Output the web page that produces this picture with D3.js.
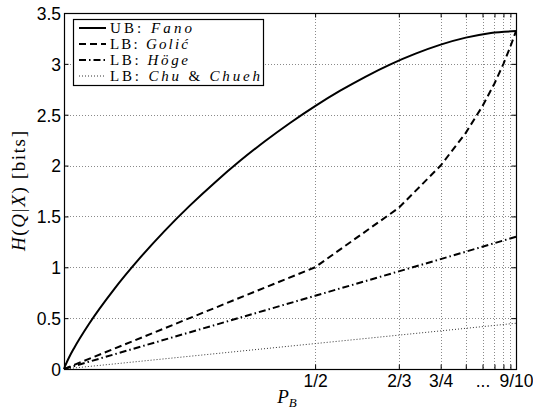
<!DOCTYPE html>
<html><head><meta charset="utf-8">
<script src="https://cdn.jsdelivr.net/npm/d3@7"></script>
<style>body{margin:0;background:#fff}svg{display:block}</style>
</head><body><svg id="c" width="533" height="416"></svg>
<script>
// ---- data ----
const fanoP = [0, 0.002, 0.005, 0.01, 0.02, 0.05, 0.1, 0.15, 0.2, 0.25, 0.3, 0.35, 0.4, 0.45, 0.5, 0.55, 0.6, 0.65, 0.7, 0.75, 0.8, 0.85, 0.9];
const fanoH = [0, 0.027, 0.061, 0.113, 0.205, 0.445, 0.786, 1.085, 1.356, 1.604, 1.832, 2.044, 2.239, 2.419, 2.585, 2.736, 2.873, 2.995, 3.100, 3.189, 3.258, 3.304, 3.322];
const golicP = [0, 1/2, 2/3, 3/4, 4/5, 5/6, 6/7, 7/8, 8/9, 9/10];
const golicH = [0, 1.0, 1.585, 2.0, 2.322, 2.585, 2.807, 3.0, 3.170, 3.322];
const hogeP = [0, 0.5, 2/3, 0.75, 0.9];
const hogeH = [0, 0.72, 0.96, 1.08, 1.30];
const chuP = [0, 0.5, 2/3, 0.9];
const chuH = [0, 0.25, 0.333, 0.45];
const xTicks = [0, 1/2, 2/3, 3/4, 4/5, 5/6, 6/7, 7/8, 8/9, 9/10];
const xTickLabels = ['', '1/2', '2/3', '3/4', '', '...', '', '', '', '9/10'];
const yTicks = [0, 0.5, 1, 1.5, 2, 2.5, 3, 3.5];
const yTickLabels = ['0', '0.5', '1', '1.5', '2', '2.5', '3', '3.5'];
const legendPrefix = ['UB: ', 'LB: ', 'LB: ', 'LB: '];
const legendNames = ['Fano', 'Golić', 'Höge', 'Chu & Chueh'];

// ---- layout ----
const L = 64, R = 516, T = 13, B = 369;
const svg = d3.select('#c');
const x = d3.scaleLinear().domain([0, 0.9]).range([L, R]);
const y = d3.scaleLinear().domain([0, 3.5]).range([B, T]);
const sans = '"Liberation Sans", Arial, sans-serif';
const serif = '"Liberation Serif", "Times New Roman", serif';

// grid
const grid = svg.append('g').attr('stroke', '#8a8a8a').attr('stroke-width', 1).attr('stroke-dasharray', '1,2').attr('fill', 'none');
xTicks.filter(v => v > 0 && v < 0.9).forEach(v => {
  grid.append('line').attr('x1', Math.round(x(v)) + 0.5).attr('x2', Math.round(x(v)) + 0.5).attr('y1', T).attr('y2', B);
});
yTicks.filter(v => v > 0 && v < 3.5).forEach(v => {
  grid.append('line').attr('y1', Math.round(y(v)) + 0.5).attr('y2', Math.round(y(v)) + 0.5).attr('x1', L).attr('x2', R);
});

// axes
const tl = 4.5;
const xAxB = d3.axisBottom(x).tickValues(xTicks).tickSizeInner(-tl).tickSizeOuter(0).tickPadding(6).tickFormat((d, i) => xTickLabels[i]);
const gx = svg.append('g').attr('transform', `translate(0,${B})`).call(xAxB);
const xAxT = d3.axisTop(x).tickValues(xTicks).tickSizeInner(-tl).tickSizeOuter(0).tickFormat('');
const gxt = svg.append('g').attr('transform', `translate(0,${T})`).call(xAxT);
const yAxL = d3.axisLeft(y).tickValues(yTicks).tickSizeInner(-tl).tickSizeOuter(0).tickPadding(3).tickFormat((d, i) => yTickLabels[i]);
const gy = svg.append('g').attr('transform', `translate(${L},0)`).call(yAxL);
const yAxR = d3.axisRight(y).tickValues(yTicks).tickSizeInner(-tl).tickSizeOuter(0).tickFormat('');
const gyr = svg.append('g').attr('transform', `translate(${R},0)`).call(yAxR);
[gx, gxt, gy, gyr].forEach(g => {
  g.select('.domain').remove();
  g.selectAll('line').attr('stroke', '#000').attr('stroke-width', 1);
  g.selectAll('text').attr('font-family', sans).attr('font-size', 17.5).attr('fill', '#000');
});
gy.selectAll('text').attr('dy', '0.36em');

// series
const line = d3.line().x(d => x(d[0])).y(d => y(d[1]));
const smooth = d3.line().x(d => x(d[0])).y(d => y(d[1])).curve(d3.curveMonotoneX);
const zip = (a, b) => a.map((v, i) => [v, b[i]]);
const plot = svg.append('g').attr('fill', 'none').attr('stroke', '#000');
plot.append('path').attr('d', line(zip(chuP, chuH))).attr('stroke-width', 1).attr('stroke', '#333').attr('stroke-dasharray', '1,2');
plot.append('path').attr('d', line(zip(hogeP, hogeH))).attr('stroke-width', 2).attr('stroke-dasharray', '7,3,1.5,3');
plot.append('path').attr('d', line(zip(golicP, golicH))).attr('stroke-width', 2).attr('stroke-dasharray', '7,4');
plot.append('path').attr('d', smooth(zip(fanoP, fanoH))).attr('stroke-width', 2);

// box
svg.append('rect').attr('x', L + 0.5).attr('y', T + 0.5).attr('width', R - L).attr('height', B - T)
  .attr('fill', 'none').attr('stroke', '#000').attr('stroke-width', 1.2);

// legend
const lg = svg.append('g');
lg.append('rect').attr('x', 73.5).attr('y', 19.5).attr('width', 190).attr('height', 66)
  .attr('fill', '#fff').attr('stroke', '#000').attr('stroke-width', 1.2);
const dashes = [null, '7,4', '7,3,1.5,3', '1,2'];
const widths = [2, 2, 2, 1];
const rowsY = [28, 44, 60, 76];
const textLens = [82, 78, 78, 150];
legendNames.forEach((n, i) => {
  const ry = rowsY[i];
  const ln = lg.append('line').attr('x1', 79).attr('x2', 106).attr('y1', ry).attr('y2', ry)
    .attr('stroke', i === 3 ? '#333' : '#000').attr('stroke-width', widths[i]);
  if (dashes[i]) ln.attr('stroke-dasharray', dashes[i]);
  const t = lg.append('text').attr('x', 110).attr('y', ry + 5).attr('font-family', serif).attr('font-size', 15)
    .attr('textLength', textLens[i]).attr('lengthAdjust', 'spacing');
  t.append('tspan').text(legendPrefix[i]);
  if (n.includes('&')) {
    const parts = n.split('&');
    t.append('tspan').attr('font-style', 'italic').text(parts[0]);
    t.append('tspan').text('&');
    t.append('tspan').attr('font-style', 'italic').text(parts[1]);
  } else {
    t.append('tspan').attr('font-style', 'italic').text(n);
  }
});

// axis labels
const xl = svg.append('text').attr('x', 287).attr('y', 403).attr('text-anchor', 'middle')
  .attr('font-family', serif).attr('font-size', 19);
xl.append('tspan').attr('font-style', 'italic').text('P');
xl.append('tspan').attr('font-style', 'italic').attr('font-size', 13).attr('dy', 4).text('B');

const yl = svg.append('text').attr('transform', `translate(25,${(T + B) / 2}) rotate(-90)`).attr('text-anchor', 'middle')
  .attr('font-family', serif).attr('font-size', 19).attr('textLength', 120).attr('lengthAdjust', 'spacing');
yl.append('tspan').attr('font-style', 'italic').text('H');
yl.append('tspan').text('(');
yl.append('tspan').attr('font-style', 'italic').text('Q');
yl.append('tspan').text('|');
yl.append('tspan').attr('font-style', 'italic').text('X');
yl.append('tspan').text(') [bits]');
</script></body></html>
